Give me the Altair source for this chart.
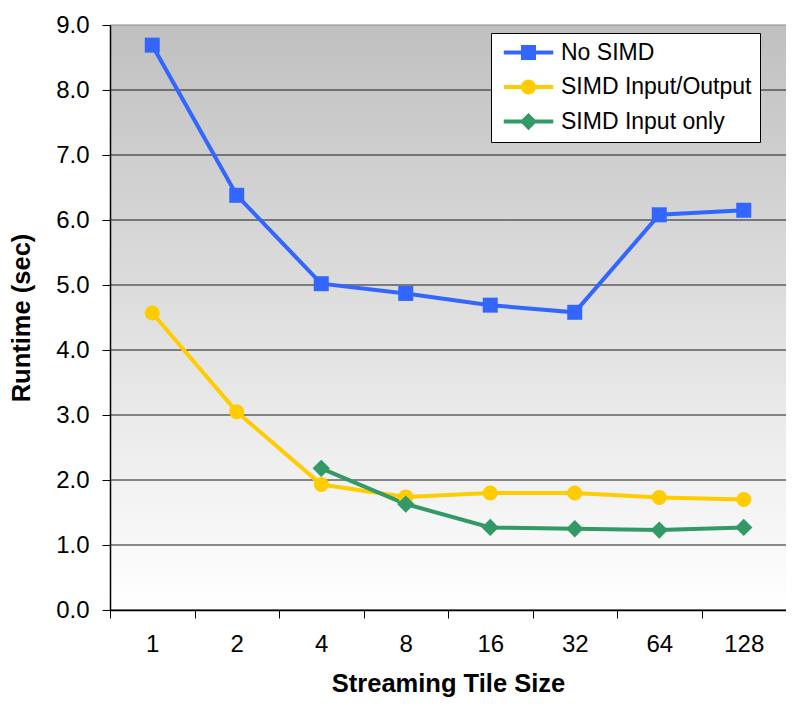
import altair as alt
import pandas as pd

sizes = ["1", "2", "4", "8", "16", "32", "64", "128"]
series_names = ["No SIMD", "SIMD Input/Output", "SIMD Input only"]
no_simd = [8.69, 6.38, 5.02, 4.87, 4.69, 4.58, 6.08, 6.15]
simd_io = [4.57, 3.05, 1.93, 1.74, 1.80, 1.80, 1.73, 1.70]
simd_in_sizes = ["4", "8", "16", "32", "64", "128"]
simd_in = [2.18, 1.63, 1.27, 1.25, 1.23, 1.27]
colors = ["#3366FF", "#FFCC00", "#339966"]
marker_shapes = ["square", "circle", "diamond"]
marker_sizes = [225, 225, 300]
y_ticks = [0, 1, 2, 3, 4, 5, 6, 7, 8, 9]

rows = []
for s, v in zip(sizes, no_simd):
    rows.append({"size": s, "series": series_names[0], "runtime": v})
for s, v in zip(sizes, simd_io):
    rows.append({"size": s, "series": series_names[1], "runtime": v})
for s, v in zip(simd_in_sizes, simd_in):
    rows.append({"size": s, "series": series_names[2], "runtime": v})
df = pd.DataFrame(rows)

FONT = "Liberation Sans"

# legend symbols: line segment + marker
legend_paths = [
    "M-3.3,-0.27L3.3,-0.27L3.3,0.27L-3.3,0.27Z M-1,-1L1,-1L1,1L-1,1Z",
    "M-3.3,-0.27L3.3,-0.27L3.3,0.27L-3.3,0.27Z M-1,0A1,1,0,1,1,1,0A1,1,0,1,1,-1,0Z",
    "M-3.3,-0.27L3.3,-0.27L3.3,0.27L-3.3,0.27Z M0,-1.15L1.15,0L0,1.15L-1.15,0Z",
]

yscale = alt.Scale(domain=[0, 9], nice=False, zero=True)
yaxis = alt.Axis(
    values=y_ticks, format=".1f", grid=False, zindex=1,
    domainColor="#000000", domainWidth=1.5, tickColor="#000000", tickSize=8, tickWidth=1,
    labelFont=FONT, labelFontSize=24, labelColor="#000000", labelPadding=13,
    title="Runtime (sec)", titleFont=FONT, titleFontSize=25.5, titleFontWeight="bold",
    titleColor="#000000", titlePadding=21,
)
xscale = alt.Scale(type="band", domain=sizes, paddingInner=0, paddingOuter=0)
xaxis = alt.Axis(
    labelAngle=0, tickBand="extent", grid=False, zindex=1,
    domainColor="#000000", domainWidth=1.5, tickColor="#000000", tickSize=8, tickWidth=1,
    labelFont=FONT, labelFontSize=24, labelColor="#000000", labelPadding=14,
    title="Streaming Tile Size", titleFont=FONT, titleFontSize=25.5, titleFontWeight="bold",
    titleColor="#000000", titlePadding=15,
)
color_scale = alt.Scale(domain=series_names, range=colors)

legend_kw = dict(
    title=None, orient="none", legendX=381, legendY=8,
    fillColor="#ffffff", strokeColor="#000000",
    padding=8, rowPadding=10.5, labelFont=FONT, labelFontSize=23, labelColor="#000000",
    symbolSize=225, symbolStrokeWidth=0, symbolOffset=18, labelOffset=21,
    labelLimit=400,
)

# legend-only layer (no data drawn)
legend_layer = alt.Chart(df).transform_filter("false").mark_point(
    filled=True, opacity=1, size=225
).encode(
    color=alt.Color("series:N", scale=color_scale, legend=alt.Legend(**legend_kw)),
    shape=alt.Shape("series:N", scale=alt.Scale(domain=series_names, range=legend_paths),
                    legend=alt.Legend(**legend_kw)),
)

gradient = alt.LinearGradient(
    gradient="linear", x1=0, x2=0, y1=0, y2=1,
    stops=[alt.GradientStop(offset=0, color="#c0c0c0"), alt.GradientStop(offset=1, color="#ffffff")],
)
bg = alt.Chart(pd.DataFrame({"top": [y_ticks[-1]], "bottom": [y_ticks[0]]})).mark_rect(
    color=gradient
).encode(
    y=alt.Y("top:Q", scale=yscale, axis=yaxis),
    y2="bottom:Q",
    x=alt.value(0),
    x2=alt.value("width"),
)

grid = alt.Chart(pd.DataFrame({"top": y_ticks})).mark_rule(strokeWidth=1).encode(
    y=alt.Y("top:Q", scale=yscale, axis=yaxis),
    color=alt.condition("datum.top == 9", alt.value("#888888"), alt.value("#1a1a1a")),
)

lines = alt.Chart(df).mark_line(strokeWidth=4).encode(
    x=alt.X("size:N", scale=xscale, axis=xaxis, sort=sizes),
    y=alt.Y("runtime:Q", scale=yscale, axis=yaxis),
    color=alt.Color("series:N", scale=color_scale, legend=None),
    detail="series:N",
)

point_layers = []
for name, shp, sz in zip(series_names, marker_shapes, marker_sizes):
    point_layers.append(
        alt.Chart(df).transform_filter(alt.datum.series == name).mark_point(
            shape=shp, filled=True, size=sz, opacity=1, strokeWidth=0
        ).encode(
            x=alt.X("size:N", scale=xscale, axis=xaxis, sort=sizes),
            y=alt.Y("runtime:Q", scale=yscale, axis=yaxis),
            color=alt.Color("series:N", scale=color_scale, legend=None),
        )
    )

chart = alt.layer(legend_layer, bg, grid, lines, *point_layers).properties(
    width=676, height=585,
    autosize=alt.AutoSizeParams(type="none"),
    padding={"left": 102, "top": 17, "right": 0, "bottom": 88},
    background="#ffffff",
).configure_view(stroke=None)

chart.save("out.html", embed_options={"renderer": "svg", "actions": False})
